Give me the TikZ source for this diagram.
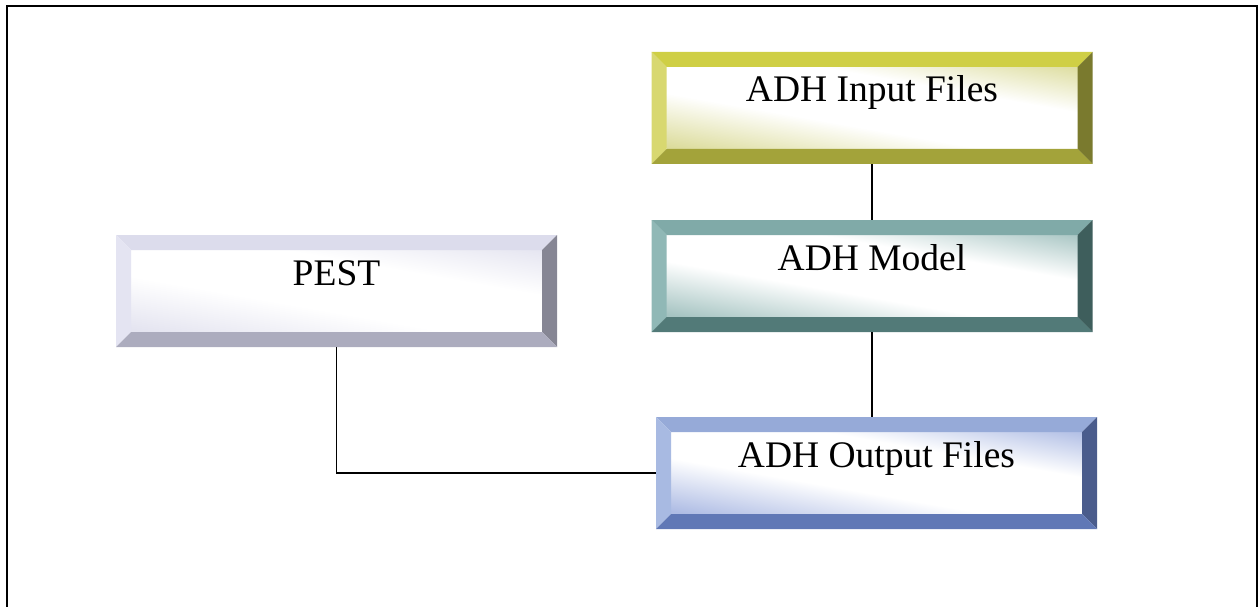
\documentclass[tikz,border=0pt]{standalone}
\usepackage{fontspec}
\setmainfont{Liberation Serif}
\usetikzlibrary{calc}
\pgfdeclareverticalshading[bvA]{bevelin}{100bp}{color(0bp)=(bvA); color(22bp)=(bvA); color(42bp)=(white); color(62bp)=(white); color(80bp)=(bvA); color(100bp)=(bvA)}
\definecolor{inT}{HTML}{CFCF45}\definecolor{inL}{HTML}{D8D870}\definecolor{inR}{HTML}{7A7A2E}\definecolor{inB}{HTML}{A3A33A}\definecolor{inS}{HTML}{DCDC9C}
\definecolor{peT}{HTML}{DCDCEC}\definecolor{peL}{HTML}{E4E4F2}\definecolor{peR}{HTML}{868694}\definecolor{peB}{HTML}{ACACBE}\definecolor{peS}{HTML}{E4E4F0}
\definecolor{moT}{HTML}{80AAA8}\definecolor{moL}{HTML}{90B8B6}\definecolor{moR}{HTML}{3E5E5C}\definecolor{moB}{HTML}{527A78}\definecolor{moS}{HTML}{A6C4C2}
\definecolor{ouT}{HTML}{96AAD8}\definecolor{ouL}{HTML}{A8BAE2}\definecolor{ouR}{HTML}{4A5C8C}\definecolor{ouB}{HTML}{6078B6}\definecolor{ouS}{HTML}{AEBCE4}
\tikzset{
  bvtop/.store in=\bvT, bvleft/.store in=\bvL, bvright/.store in=\bvR, bvbot/.store in=\bvB, bvtint/.store in=\bvS,
  bevelbox/.style={minimum width=441, minimum height=112, inner sep=0pt, text height=50pt, text depth=62pt,
    font=\fontsize{37.5}{37.5}\selectfont,
    path picture={
      \coordinate (nw) at (path picture bounding box.north west);
      \coordinate (se) at (path picture bounding box.south east);
      \coordinate (ne) at (nw -| se);
      \coordinate (sw) at (nw |- se);
      \colorlet{bvA}{\bvS}
      \shade[shading=bevelin, shading angle=-10] ($(nw)+(15,15)$) rectangle ($(se)+(-15,-15)$);
      \fill[\bvT] (nw) -- (ne) -- ($(ne)+(-15,15)$) -- ($(nw)+(15,15)$) -- cycle;
      \fill[\bvL] (nw) -- ($(nw)+(15,15)$) -- ($(sw)+(15,-15)$) -- (sw) -- cycle;
      \fill[\bvR] (ne) -- (se) -- ($(se)+(-15,-15)$) -- ($(ne)+(-15,15)$) -- cycle;
      \fill[\bvB] (sw) -- ($(sw)+(15,-15)$) -- ($(se)+(-15,-15)$) -- (se) -- cycle;
    }},
  input/.style={bevelbox, bvtop=inT, bvleft=inL, bvright=inR, bvbot=inB, bvtint=inS},
  pest/.style={bevelbox, bvtop=peT, bvleft=peL, bvright=peR, bvbot=peB, bvtint=peS},
  model/.style={bevelbox, bvtop=moT, bvleft=moL, bvright=moR, bvbot=moB, bvtint=moS},
  output/.style={bevelbox, bvtop=ouT, bvleft=ouL, bvright=ouR, bvbot=ouB, bvtint=ouS},
  link/.style={line width=1.5pt, black},
  frame/.style={line width=2.6pt, black}
}
\begin{document}
\begin{tikzpicture}[x=1pt, y=-1pt]
\useasboundingbox (0,0) rectangle (1259,607);
\draw[frame] (7,612) -- (7,6) -- (1257,6) -- (1257,612);
\node[input]  (inp) at (872,108)   {ADH Input Files};
\node[pest]   (pest) at (336.5,291) {PEST};
\node[model]  (mod) at (872,276)   {ADH Model};
\node[output] (out) at (876.5,473) {ADH Output Files};
\draw[link] (inp.south) -- (mod.north);
\draw[link] (mod.south) -- (mod.south |- out.north);
\draw[link] (pest.south) |- (out.west);
\end{tikzpicture}
\end{document}
